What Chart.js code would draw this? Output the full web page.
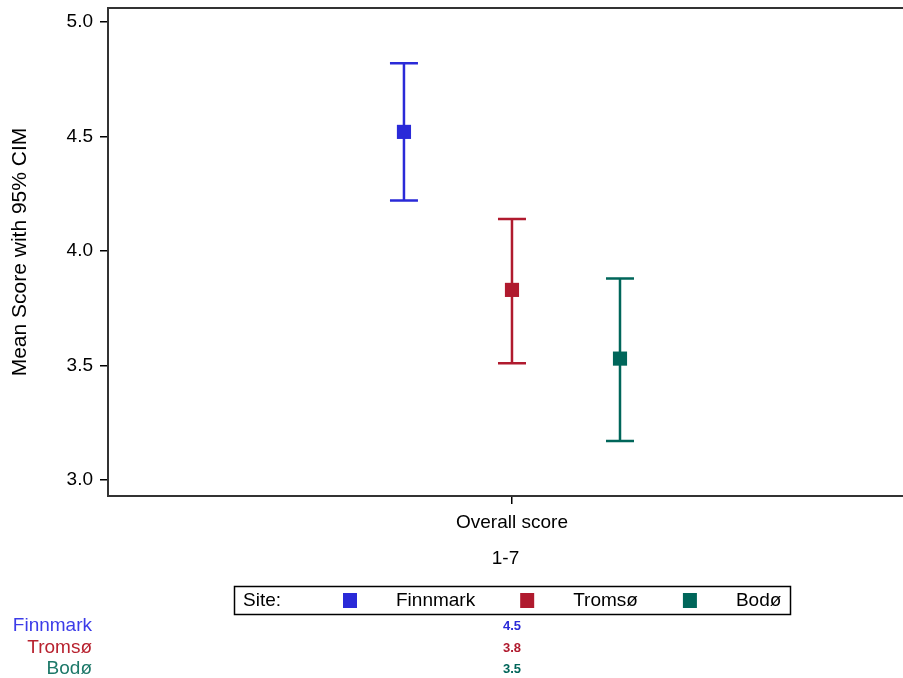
<!DOCTYPE html>
<html>
<head>
<meta charset="utf-8">
<script src="https://cdn.jsdelivr.net/npm/chart.js@4/dist/chart.umd.min.js"></script>
<style>
	html, body { margin: 0; padding: 0; background: #fff; overflow: hidden; }
	#wrap { width: 903px; height: 678px; }
</style>
</head>
<body>
<div id="wrap"><canvas id="chart" width="903" height="678"></canvas></div>
<script>
/* data */
const sites = ['Finnmark', 'Tromsø', 'Bodø']
const siteOffsets = [-1, 0, 1]
const means = [4.52, 3.83, 3.53]
const lowerCI = [4.22, 3.51, 3.17]
const upperCI = [4.82, 4.14, 3.88]
const yTicks = [3.0, 3.5, 4.0, 4.5, 5.0]
const categoryLabel = 'Overall score'
const scaleLabel = '1-7'

const markColors = ['#2a2ad8', '#b01a2e', '#00665a']
const textColors = ['#3c3ce8', '#b8222f', '#1c7868']
const FONT = '"Liberation Sans", Arial, sans-serif'

/* error bars under the markers */
const errorBars = {
	id: 'errorBars',
	beforeDatasetsDraw(chart) {
		const { ctx, scales: { x, y } } = chart
		ctx.save()
		ctx.lineWidth = 2.5
		sites.forEach((s, i) => {
			const px = x.getPixelForValue(siteOffsets[i])
			const lo = y.getPixelForValue(lowerCI[i])
			const hi = y.getPixelForValue(upperCI[i])
			ctx.strokeStyle = markColors[i]
			ctx.beginPath()
			ctx.moveTo(px, hi); ctx.lineTo(px, lo)
			ctx.moveTo(px - 14, hi); ctx.lineTo(px + 14, hi)
			ctx.moveTo(px - 14, lo); ctx.lineTo(px + 14, lo)
			ctx.stroke()
		})
		ctx.restore()
	}
}

/* frame, legend box and the value table */
const extras = {
	id: 'extras',
	afterDraw(chart) {
		const { ctx, chartArea: a, scales: { x } } = chart
		ctx.save()
		// frame (no right side, it runs off the picture)
		ctx.strokeStyle = '#333'
		ctx.lineWidth = 2
		ctx.beginPath()
		ctx.moveTo(a.right, a.top); ctx.lineTo(a.left, a.top)
		ctx.lineTo(a.left, a.bottom); ctx.lineTo(a.right, a.bottom)
		ctx.stroke()

		// legend
		ctx.lineWidth = 1.5
		ctx.strokeStyle = '#000'
		ctx.strokeRect(234.5, 586.5, 556, 28)
		ctx.font = '19px ' + FONT
		ctx.textBaseline = 'middle'
		ctx.textAlign = 'left'
		ctx.fillStyle = '#000'
		ctx.fillText('Site:', 243, 601)
		let lx = 343
		sites.forEach((s, i) => {
			ctx.fillStyle = markColors[i]
			ctx.fillRect(lx, 593, 14, 15)
			ctx.fillStyle = '#000'
			ctx.fillText(s, lx + 53, 601)
			lx += 53 + ctx.measureText(s).width + 45
		})

		// table below
		const cx = x.getPixelForValue(0)
		const rows = [626, 648, 669]
		sites.forEach((s, i) => {
			ctx.font = '19px ' + FONT
			ctx.textAlign = 'right'
			ctx.fillStyle = textColors[i]
			ctx.fillText(s, 92, rows[i])
			ctx.font = 'bold 13px ' + FONT
			ctx.textAlign = 'center'
			ctx.fillStyle = markColors[i]
			ctx.fillText(means[i].toFixed(1), cx, rows[i])
		})
		ctx.restore()
	}
}

new Chart('chart', {
	type: 'scatter',
	data: {
		datasets: sites.map((s, i) => ({
			label: s,
			data: [{ x: siteOffsets[i], y: means[i] }],
			pointStyle: 'rect',
			pointRadius: 10,
			pointHoverRadius: 10,
			backgroundColor: markColors[i],
			borderColor: markColors[i],
			borderWidth: 0
		}))
	},
	options: {
		responsive: false,
		animation: false,
		layout: { autoPadding: false, padding: { left: 0, top: 8, right: 0, bottom: 108 } },
		plugins: {
			legend: { display: false },
			tooltip: { enabled: false }
		},
		scales: {
			x: {
				type: 'linear',
				min: -3.74,
				max: 3.62,
				afterFit: (scale) => {
					scale.height = 74
					scale.paddingLeft = 0
					scale.paddingRight = 0
				},
				afterBuildTicks: (scale) => { scale.ticks = [{ value: 0 }] },
				border: { display: false },
				grid: { drawOnChartArea: false, drawTicks: true, tickLength: 8, color: '#000', lineWidth: 1.5 },
				ticks: {
					padding: 7,
					color: '#000',
					font: { size: 19, family: FONT },
					callback: () => categoryLabel
				},
				title: {
					display: true,
					text: scaleLabel,
					color: '#000',
					padding: 0,
					font: { size: 19, family: FONT }
				}
			},
			y: {
				min: 2.93,
				max: 5.061,
				afterFit: (scale) => {
					scale.width = 108
					scale.paddingTop = 0
					scale.paddingBottom = 0
				},
				afterBuildTicks: (scale) => { scale.ticks = yTicks.map((v) => ({ value: v })) },
				border: { display: false },
				grid: { drawOnChartArea: false, drawTicks: true, tickLength: 8, color: '#000', lineWidth: 1.5 },
				ticks: {
					padding: 7,
					color: '#000',
					font: { size: 19, family: FONT },
					callback: (v) => Number(v).toFixed(1)
				},
				title: {
					display: true,
					text: 'Mean Score with 95% CIM',
					color: '#000',
					padding: { top: 8, bottom: 0 },
					font: { size: 21, family: FONT }
				}
			}
		}
	},
	plugins: [errorBars, extras]
})
</script>
</body>
</html>
